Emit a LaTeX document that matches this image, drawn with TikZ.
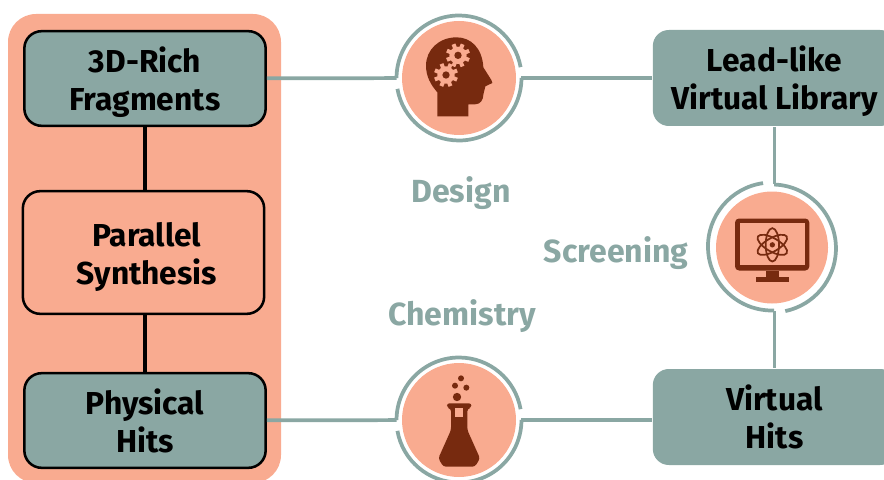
\documentclass[tikz,border=0pt]{standalone}
\usepackage{fontspec}
\setmainfont{Fira Sans}
\definecolor{salmon}{HTML}{F9AB90}
\definecolor{teal}{HTML}{8AA7A3}
\definecolor{brown}{HTML}{772A0F}
\newcommand{\twolines}[2]{\rule{0pt}{27.5pt}#1\\\rule[-8.55pt]{0pt}{8.55pt}#2}
\tikzset{
	box/.style={draw=black, line width=1.9pt, rounded corners=13pt, minimum width=181pt, minimum height=71pt, inner sep=0pt, align=center, font=\fontsize{23.8}{28.5}\selectfont\bfseries},
	tealbox/.style={box, fill=teal},
	openbox/.style={box, draw=none, fill=teal, minimum width=182.5pt, minimum height=72pt, rounded corners=12pt},
	disc/.style={circle, fill=salmon, minimum size=85.5pt, inner sep=0pt, outer sep=4.1pt},
	link/.style={teal, line width=2.8pt},
	bond/.style={black, line width=2.6pt},
	stage/.style={text=teal, inner sep=0pt, font=\fontsize{24}{28}\selectfont\bfseries},
	gearwheel/.pic={
		\fill [salmon] (0,0) circle (26);
		\foreach \a in {0,45,...,315}
			\fill [salmon, rotate=\a+22] (-6,20) rectangle (6,36);
		\fill [brown] (0,0) circle (11);
	},
}
\begin{document}
\begin{tikzpicture}[x=0.75pt, y=0.75pt]
	\useasboundingbox (0,0) rectangle (884,479);
	\clip (0,0) rectangle (884,479);

	% Panel
	\fill [salmon, rounded corners=21pt] (8,-4) rectangle (281,465);

	% Boxes
	\node [tealbox] (frag) at (145,400.5) {\twolines{3D-Rich}{Fragments}};
	\node [box, fill=salmon, minimum height=92pt] (synth) at (143.5,226.5) {\twolines{\hspace*{5pt}Parallel}{\hspace*{5pt}Synthesis}};
	\node [tealbox] (hits) at (145,58.5) {\twolines{Physical}{Hits}};
	\node [openbox] (lead) at (774.5,401) {\twolines{Lead-like}{Virtual Library}};
	\node [openbox] (virtual) at (774.5,62) {\twolines{Virtual}{Hits}};

	% Stages
	\node [disc] (design) at (459,401) {};
	\node [disc, minimum size=84pt, outer sep=5.25pt] (screen) at (772,231.5) {};
	\node [disc] (chem) at (459,59) {};

	\node [stage] (designlabel) at (461,286) {Design};
	\node [stage] (screenlabel) at (616,226) {Screening};
	\node [stage] (chemlabel) at (462,163) {Chemistry};

	% Left column
	\draw [bond] (frag) -- (frag |- synth.north);
	\draw [bond] (hits) -- (hits |- synth.south);

	% Links
	\draw [link] (frag) -- (design);
	\draw [link] (design) -- (lead);
	\draw [link] (lead) -- (lead |- screen.north);
	\draw [link] (virtual) -- (virtual |- screen.south);
	\draw [link] (virtual.west |- chem) -- (chem);
	\draw [link] (chem) -- (hits);

	% Rings
	\draw [link] (design.180) arc [start angle=180, end angle=10, radius=62.5];
	\draw [link] (design.0) arc [start angle=0, end angle=-170, radius=62.5];
	\draw [link] (chem.180) arc [start angle=180, end angle=10, radius=62.5];
	\draw [link] (chem.0) arc [start angle=0, end angle=-170, radius=62.5];
	\draw [link] (screen.88) arc [start angle=88, end angle=-78, radius=64];
	\draw [link] (screen.-88) arc [start angle=-88, end angle=-262, radius=64];

	% Head
	\begin{scope}[shift={(design)}, x=0.25pt, y=0.25pt]
		\fill [brown] (-65,-115) -- (28,-115) -- (28,-79) -- (48,-79) .. controls (65,-79) and (73,-65) .. (73,-50) -- (79,-25) -- (100,-15) -- (97,-6) -- (73,32) .. controls (70,90) and (35,122) .. (-7,122) .. controls (-60,122) and (-99,85) .. (-99,37) .. controls (-99,5) and (-85,-20) .. (-65,-43) -- cycle;
		\pic at (-3,68) {gearwheel};
		\pic at (-39,9) {gearwheel};
	\end{scope}

	% Monitor
	\begin{scope}[shift={(screen)}, x=0.25pt, y=0.25pt]
		\fill [brown, rounded corners=3pt] (-111,87) rectangle (112,-69);
		\fill [salmon] (-96,73) rectangle (98,-52);
		\fill [brown] (-18,-69) rectangle (22,-87);
		\fill [brown] (-49,-87) rectangle (52,-103);
		\foreach \a in {90,30,-30}
			\draw [brown, line width=1.3pt, rotate around={\a:(1,8)}] (1,8) ellipse [x radius=50, y radius=20];
		\fill [brown] (1,8) circle (8);
	\end{scope}

	% Flask
	\begin{scope}[shift={(chem)}, x=0.25pt, y=0.25pt]
		\fill [brown] (6,125) circle (9);
		\fill [brown] (-12,103) circle (9);
		\fill [brown] (22,97) circle (9);
		\fill [brown] (-6,69) circle (12.5);
		\fill [brown, rounded corners=2pt] (-37,50) -- (38,50) -- (36,36) -- (25,34) -- (25,-30) -- (63,-115) -- (48,-140) -- (-47,-140) -- (-62,-115) -- (-24,-30) -- (-24,34) -- (-35,36) -- cycle;
		\fill [salmon] (-13,35) rectangle (13,10);
	\end{scope}
\end{tikzpicture}
\end{document}
